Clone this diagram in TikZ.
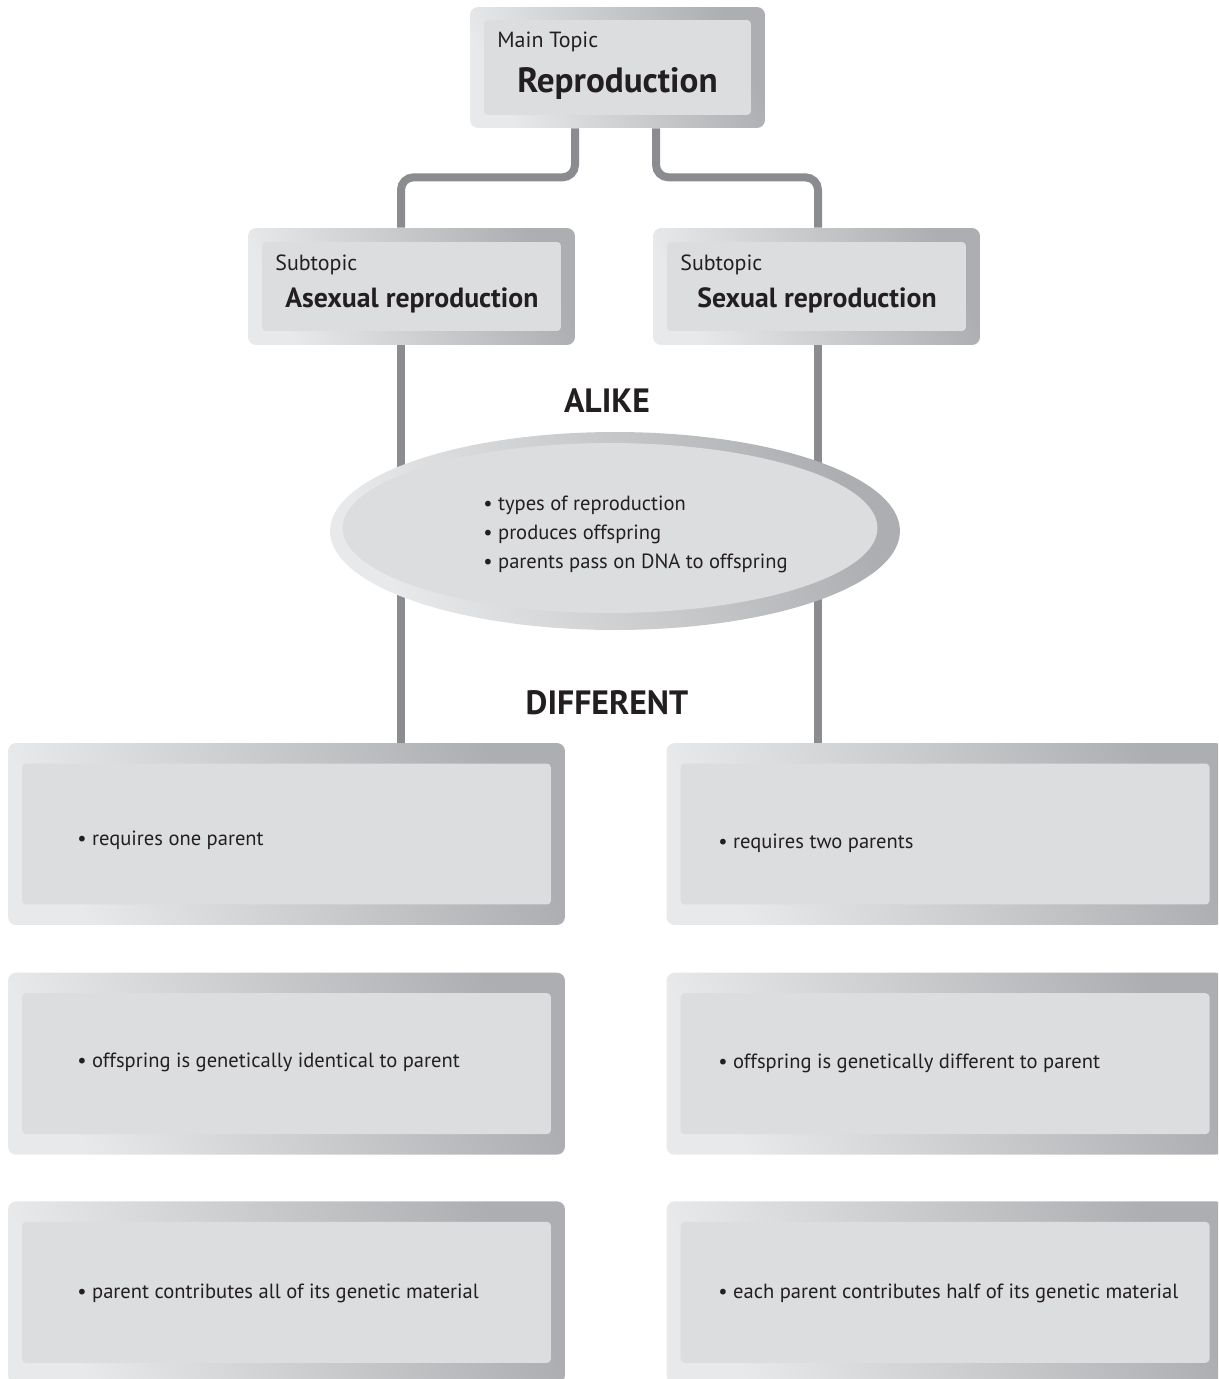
\documentclass[tikz,border=0pt]{standalone}
\usepackage{fontspec}
\setmainfont{PT Sans}
\usetikzlibrary{shapes.geometric, positioning, backgrounds}

\definecolor{panelgray}{HTML}{DCDDDF}
\definecolor{shadelight}{HTML}{E8E9EA}
\definecolor{shadedark}{HTML}{ADAEB1}
\definecolor{wiregray}{HTML}{8B8C8F}
\definecolor{inkgray}{HTML}{231F20}

\tikzstyle{frame} = [rectangle, rounded corners=0.16cm, inner sep=0, left color=shadelight, right color=shadedark, shading angle=115]
\tikzstyle{panel} = [rectangle, rounded corners=0.08cm, inner sep=0, fill=panelgray]
\tikzstyle{oval} = [ellipse, inner sep=0, left color=shadelight, right color=shadedark, shading angle=115]
\tikzstyle{ovalpanel} = [ellipse, inner sep=0, fill=panelgray]
\tikzstyle{wire} = [line width=0.16cm, draw=wiregray, rounded corners=0.25cm]
\tikzstyle{smalllabel} = [anchor=base west, inner sep=0, text=inkgray, font=\fontsize{12.5}{14}\selectfont]
\tikzstyle{boldlabel} = [anchor=base west, inner sep=0, text=inkgray, font=\bfseries\fontsize{15.8}{18}\selectfont]
\tikzstyle{heading} = [anchor=base, inner sep=0, text=inkgray, font=\bfseries\fontsize{19.2}{21}\selectfont]
\tikzstyle{bullettext} = [anchor=base west, inner sep=0, text=inkgray, align=left, font=\fontsize{11.7}{16.4}\selectfont]

\begin{document}
\begin{tikzpicture}[x=0.02cm, y=-0.02cm]

\useasboundingbox (0,0) rectangle (1218,1379);
\clip (0,0) rectangle (1218,1379);

% Main topic
\node (main) [frame, minimum width=5.9cm, minimum height=2.42cm] at (617.5,67.5) {};
\node (mainpanel) [panel, minimum width=5.34cm, minimum height=1.9cm] at (main.center) {};
\node (mainlbl) [smalllabel] at (497,47) {Main Topic};
\node (maintitle) [boldlabel, font=\bfseries\fontsize{20}{22}\selectfont] at (517,92) {Reproduction};

% Subtopics
\node (asex) [frame, minimum width=6.54cm, minimum height=2.34cm] at (411.5,286.5) {};
\node (asexpanel) [panel, minimum width=5.98cm, minimum height=1.78cm] at (asex.center) {};
\node (asexlbl) [smalllabel] at (275,270) {Subtopic};
\node (asextitle) [boldlabel] at (285,307) {Asexual reproduction};

\node (sex) [frame, minimum width=6.54cm, minimum height=2.34cm] at (816.5,286.5) {};
\node (sexpanel) [panel, minimum width=5.98cm, minimum height=1.78cm] at (sex.center) {};
\node (sexlbl) [smalllabel] at (680,270) {Subtopic};
\node (sextitle) [boldlabel] at (697,307) {Sexual reproduction};

% Alike
\node (alikehead) [heading] at (607,412) {ALIKE};
\node (alike) [oval, minimum width=11.4cm, minimum height=3.96cm] at (615,531) {};
\node (alikepanel) [ovalpanel, minimum width=10.7cm, minimum height=3.4cm] at (610,528) {};
\node (alikelist) [bullettext] at (483,568) {\textbullet{} types of reproduction\\
  \textbullet{} produces offspring\\
  \textbullet{} parents pass on DNA to offspring};

% Different
\node (diffhead) [heading] at (607,714) {DIFFERENT};

\node (a1) [frame, minimum width=11.14cm, minimum height=3.64cm] at (286.5,834) {};
\node (a2) [frame, minimum width=11.14cm, minimum height=3.64cm, below=0.94cm of a1] {};
\node (a3) [frame, minimum width=11.14cm, minimum height=3.64cm, below=0.92cm of a2] {};
\node (s1) [frame, minimum width=11.14cm, minimum height=3.64cm, right=2.02cm of a1] {};
\node (s2) [frame, minimum width=11.14cm, minimum height=3.64cm, right=2.02cm of a2] {};
\node (s3) [frame, minimum width=11.14cm, minimum height=3.64cm, right=2.02cm of a3] {};

\node (a1panel) [panel, minimum width=10.58cm, minimum height=2.82cm] at (a1.center) {};
\node (a2panel) [panel, minimum width=10.58cm, minimum height=2.82cm] at (a2.center) {};
\node (a3panel) [panel, minimum width=10.58cm, minimum height=2.82cm] at (a3.center) {};
\node (s1panel) [panel, minimum width=10.58cm, minimum height=2.82cm] at (s1.center) {};
\node (s2panel) [panel, minimum width=10.58cm, minimum height=2.82cm] at (s2.center) {};
\node (s3panel) [panel, minimum width=10.58cm, minimum height=2.82cm] at (s3.center) {};

\node (a1txt) [bullettext] at (77,845) {\textbullet{} requires one parent};
\node (a2txt) [bullettext] at (77,1067) {\textbullet{} offspring is genetically identical to parent};
\node (a3txt) [bullettext] at (77,1298) {\textbullet{} parent contributes all of its genetic material};
\node (s1txt) [bullettext] at (718,848) {\textbullet{} requires two parents};
\node (s2txt) [bullettext] at (718,1068) {\textbullet{} offspring is genetically different to parent};
\node (s3txt) [bullettext] at (718,1298) {\textbullet{} each parent contributes half of its genetic material};

% Connectors
\begin{scope}[on background layer]
\draw [wire] ([xshift=-0.85cm]main.south) -- ++(0,-0.98cm) -| ([xshift=-0.21cm]asex.north);
\draw [wire] ([xshift=0.77cm]main.south) -- ++(0,-0.98cm) -| ([xshift=0.03cm]sex.north);
\draw [wire] ([xshift=-0.21cm]asex.south) -- ([xshift=-0.21cm]asex.south |- a1.north);
\draw [wire] ([xshift=0.03cm]sex.south) -- ([xshift=0.03cm]sex.south |- s1.north);
\end{scope}

\end{tikzpicture}
\end{document}
